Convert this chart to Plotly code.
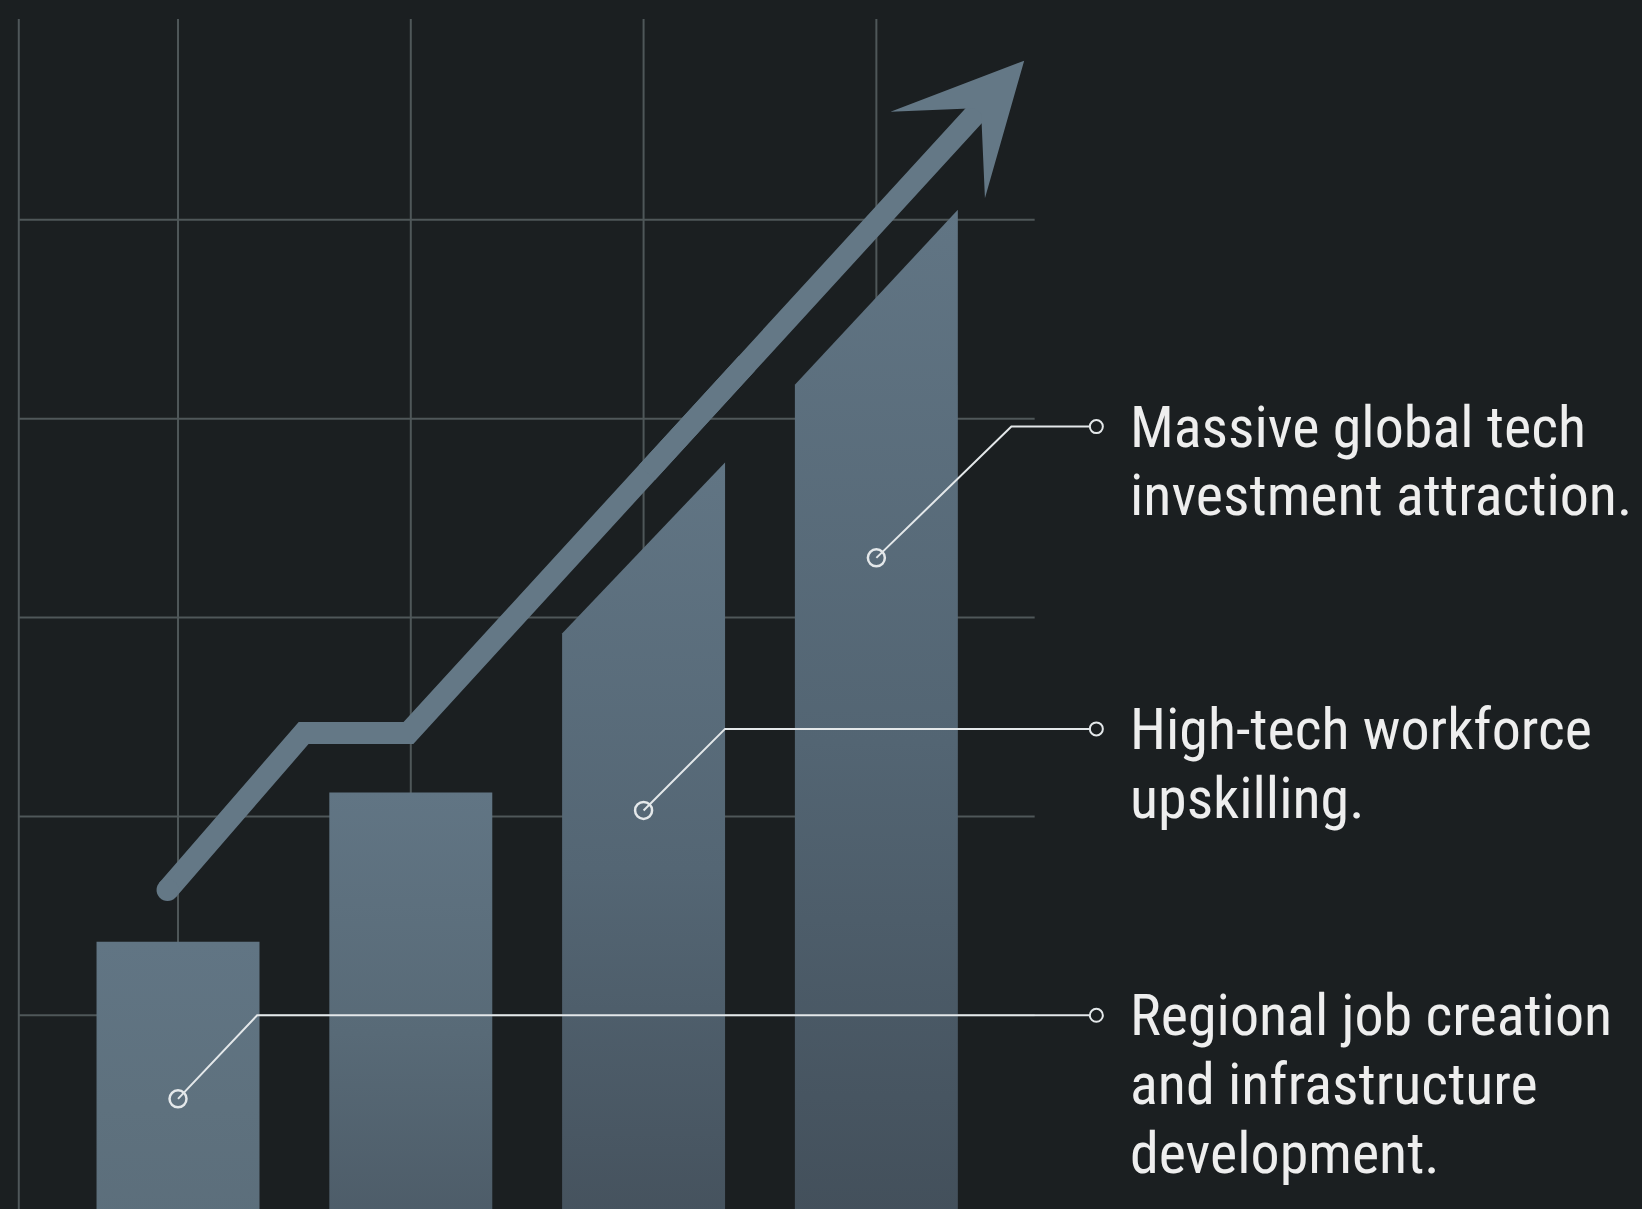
import plotly.graph_objects as go
import numpy as np

# ---------------- data ----------------
categories = ["Stage 1", "Stage 2", "Stage 3", "Stage 4"]
bar_pos = [1, 2, 3, 4]
bar_top_left = [1.37, 2.12, 2.92, 4.17]
bar_top_right = [1.37, 2.12, 3.78, 5.05]

trend_x = [0.955, 1.54, 1.99, 4.635]
trend_y = [1.63, 2.42, 2.42, 5.80]

callout_text = [
    "Massive global tech\ninvestment attraction.",
    "High-tech workforce\nupskilling.",
    "Regional job creation\nand infrastructure\ndevelopment.",
]
callout_bar = [4, 3, 1]
callout_dot_y = [3.30, 2.03, 0.58]
callout_elbow_x = [4.58, 3.35, 1.34]
callout_label_y = [3.96, 2.44, 1.00]

grid_y = [1, 2, 3, 4, 5]
grid_x = [1, 2, 3, 4]

# ---------------- style ----------------
BG = "#1b1f21"
GRID = "#4f5759"
BAR_HALF = 0.35
ARROW = "#647886"
WHITE = "#e4e8ea"
FONT = "Liberation Sans Narrow, Arial Narrow, Roboto Condensed, Roboto, sans-serif"
BAR_TOP_COLOR = "#617584"
BAR_MID_COLOR = ["#5e717e", "#586a77", "#546674", "#536573"]
BAR_BOTTOM_COLOR = ["#5b6d7a", "#4a5864", "#434f5a", "#414d58"]

X0, X1 = 0.2353, 7.289
Y0, Y1 = 0.026, 6.105
GRID_LEFT, GRID_RIGHT, GRID_TOP = 0.316, 4.68, 6.01

fig = go.Figure()

shapes = []
for gy in grid_y:
    shapes.append(dict(type="line", xref="x", yref="y", x0=GRID_LEFT, x1=GRID_RIGHT,
                       y0=gy, y1=gy, line=dict(color=GRID, width=2), layer="below"))
for gx in [GRID_LEFT] + grid_x:
    shapes.append(dict(type="line", xref="x", yref="y", x0=gx, x1=gx,
                       y0=-1, y1=GRID_TOP, line=dict(color=GRID, width=2), layer="below"))

# bars as gradient-filled polygons
for i, (c, tl, tr) in enumerate(zip(bar_pos, bar_top_left, bar_top_right)):
    xs = [c - BAR_HALF, c - BAR_HALF, c + BAR_HALF, c + BAR_HALF, c - BAR_HALF]
    ys = [-0.3, tl, tr, -0.3, -0.3]
    fig.add_trace(go.Scatter(
        x=xs, y=ys, mode="lines", fill="toself", line=dict(width=0),
        fillgradient=dict(type="vertical", start=-0.3, stop=max(tl, tr),
                          colorscale=[[0, BAR_BOTTOM_COLOR[i]], [0.5, BAR_MID_COLOR[i]],
                                      [1, BAR_TOP_COLOR]]),
        hoverinfo="skip"))

# trend arrow shaft
t = 0.55
mid_x = trend_x[2] + t * (trend_x[3] - trend_x[2])
mid_y = trend_y[2] + t * (trend_y[3] - trend_y[2])
fig.add_trace(go.Scatter(
    x=trend_x[:3] + [mid_x], y=trend_y[:3] + [mid_y], mode="lines",
    line=dict(color=ARROW, width=22), hoverinfo="skip"))
fig.add_trace(go.Scatter(
    x=[trend_x[0]], y=[trend_y[0]], mode="markers",
    marker=dict(color=ARROW, size=22), hoverinfo="skip"))

annotations = [dict(x=trend_x[3], y=trend_y[3], ax=mid_x - 0.3 * (mid_x - trend_x[2]),
                    ay=mid_y - 0.3 * (mid_y - trend_y[2]),
                    xref="x", yref="y", axref="x", ayref="y", text="", showarrow=True,
                    arrowhead=3, arrowsize=0.97, arrowwidth=22, arrowcolor=ARROW)]

# callouts
END_X = 4.915
DOT2_X = 4.945
TEXT_X = 5.08
LINE_STEP = 0.345
for txt, b, dy, ex, ly in zip(callout_text, callout_bar, callout_dot_y, callout_elbow_x, callout_label_y):
    fig.add_trace(go.Scatter(
        x=[b, ex, END_X], y=[dy, ly, ly], mode="lines",
        line=dict(color=WHITE, width=2), hoverinfo="skip"))
    fig.add_trace(go.Scatter(
        x=[b], y=[dy], mode="markers",
        marker=dict(symbol="circle-open", size=17, color=WHITE, line=dict(width=2.5)),
        hoverinfo="skip"))
    fig.add_trace(go.Scatter(
        x=[DOT2_X], y=[ly], mode="markers",
        marker=dict(symbol="circle-open", size=13, color=WHITE, line=dict(width=2)),
        hoverinfo="skip"))
    for k, line in enumerate(txt.split("\n")):
        annotations.append(dict(x=TEXT_X, y=ly - k * LINE_STEP, xref="x", yref="y",
                                text=line, showarrow=False, xanchor="left", yanchor="middle",
                                font=dict(family=FONT, size=58, color="#eeeeee")))

fig.update_layout(
    width=1642, height=1209,
    margin=dict(l=0, r=0, t=0, b=0),
    paper_bgcolor=BG, plot_bgcolor=BG,
    showlegend=False,
    xaxis=dict(range=[X0, X1], visible=False, fixedrange=True),
    yaxis=dict(range=[Y0, Y1], visible=False, fixedrange=True),
    shapes=shapes,
    annotations=annotations,
)

fig.write_html("out.html", config={"displayModeBar": False},
               post_script="document.body.style.margin='0';document.body.style.overflow='hidden';")
